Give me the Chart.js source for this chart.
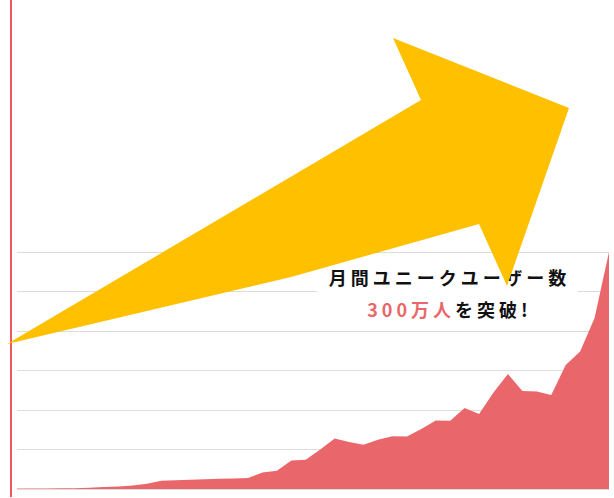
<!DOCTYPE html>
<html>
<head>
<meta charset="utf-8">
<script src="https://cdn.jsdelivr.net/npm/chart.js@4"></script>
<style>
  html, body { margin: 0; padding: 0; background: #ffffff; }
  #wrap { position: relative; width: 614px; height: 498px; overflow: hidden; background: #fff; }
  #chart { position: absolute; left: 0; top: 0; }
  #rule { position: absolute; left: 10px; top: 0; width: 2px; height: 497px; background: #f2555f; }
  #note {
    position: absolute; left: 317px; top: 255px; width: 261px; height: 70px;
    background: #ffffff; box-sizing: border-box; padding-top: 6px; padding-left: 4px;
    text-align: center; font-family: "Noto Sans CJK JP", "Noto Sans", sans-serif;
    font-weight: 700; font-size: 18px; line-height: 32px; letter-spacing: 4px; color: #111111;
  }
  #note .hl { color: #e9676a; }
  #arrow { position: absolute; left: 0; top: 0; pointer-events: none; }
</style>
</head>
<body>
<div id="wrap">
  <canvas id="chart" width="614" height="498"></canvas>
  <div id="rule"></div>
  <div id="note"><div>月間ユニークユーザー数</div><div><span class="hl">300万人</span>を突破!</div></div>
  <svg id="arrow" width="614" height="498" viewBox="0 0 614 498">
    <polygon points="7,344 421,100 393,38 569,108 507,286 479,224 291,277" fill="#ffc000"/>
  </svg>
</div>
<script>
// Monthly unique users (unit: 万人)
const MONTHS = ["1","2","3","4","5","6","7","8","9","10","11","12","13","14","15","16","17","18","19","20","21",
                "22","23","24","25","26","27","28","29","30","31","32","33","34","35","36","37","38","39","40","41","42"];
const USERS = [0.6, 0.7, 0.7, 0.8, 1.0, 1.5, 2.5, 3.2, 4.5, 6.5, 10.5, 11, 11.8, 12.4, 13, 13.3, 14, 21, 23, 36, 37,
               50, 64, 59.4, 56, 62.3, 66.7, 66.5, 76, 86.7, 86.3, 102.4, 95, 122, 145.7, 124, 123.4, 119, 157, 174, 216.5, 300];
const Y_TICKS = [0, 50, 100, 150, 200, 250, 300];

new Chart(document.getElementById('chart'), {
  type: 'line',
  data: {
    labels: MONTHS,
    datasets: [{
      data: USERS,
      fill: 'origin',
      backgroundColor: '#e9676a',
      borderColor: '#e9676a',
      borderWidth: 0,
      pointRadius: 0,
      tension: 0
    }]
  },
  options: {
    responsive: false,
    animation: false,
    devicePixelRatio: 1,
    layout: { padding: { left: 17, right: 5, top: 252, bottom: 9 } },
    plugins: { legend: { display: false }, tooltip: { enabled: false } },
    scales: {
      x: { display: false, offset: false },
      y: {
        display: true,
        min: Y_TICKS[0],
        max: Y_TICKS[Y_TICKS.length - 1],
        ticks: { display: false, stepSize: Y_TICKS[1] - Y_TICKS[0] },
        grid: { color: '#dcdcdc', lineWidth: 1, drawTicks: false },
        border: { display: false }
      }
    }
  }
});
</script>
</body>
</html>
